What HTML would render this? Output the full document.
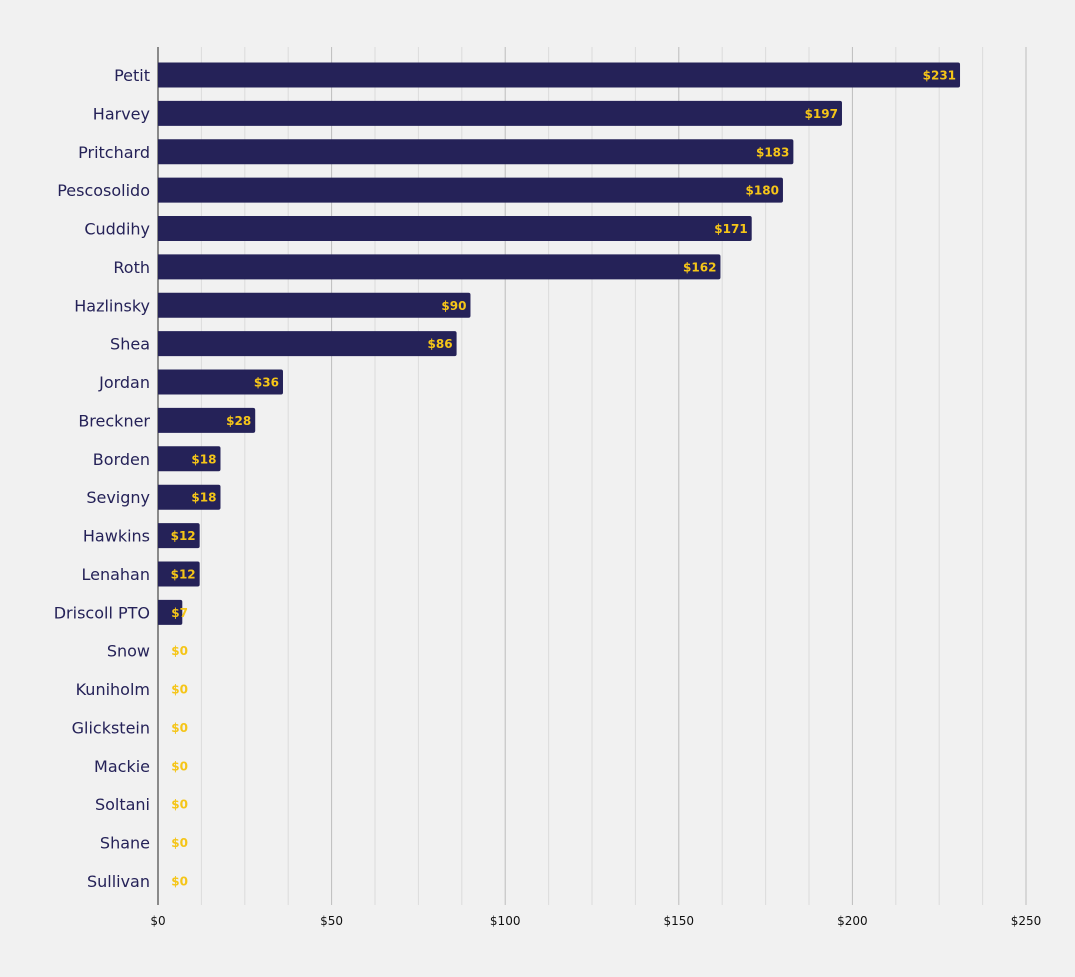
<!DOCTYPE html>
<html><head><meta charset="utf-8"><style>
html,body{margin:0;padding:0;background:#f1f1f1;}
svg{display:block;}
</style></head><body>
<svg id="chart" width="1075" height="977" xmlns="http://www.w3.org/2000/svg">
<rect width="1075" height="977" fill="#f1f1f1"/>
<g id="grid"></g>
<g id="bars"></g>
<g id="ylabels"></g>
<g id="xlabels"></g>
</svg>
<script>
const categories = ["Petit","Harvey","Pritchard","Pescosolido","Cuddihy","Roth","Hazlinsky","Shea","Jordan","Breckner","Borden","Sevigny","Hawkins","Lenahan","Driscoll PTO","Snow","Kuniholm","Glickstein","Mackie","Soltani","Shane","Sullivan"];
const values = [231,197,183,180,171,162,90,86,36,28,18,18,12,12,7,0,0,0,0,0,0,0];
const xTicks = [0,50,100,150,200,250];
const xMinor = [12.5,25,37.5,62.5,75,87.5,112.5,125,137.5,162.5,175,187.5,212.5,225,237.5];

const NS = "http://www.w3.org/2000/svg";
const x0 = 158, x1 = 1026, xMax = 250;
const plotTop = 47, plotBottom = 905, firstY = 75, step = (881-75)/21, barH = 25;
const xs = v => x0 + (x1 - x0) * v / xMax;
const ys = i => firstY + i * step;
function mk(tag, attrs, parent){const e=document.createElementNS(NS,tag);for(const k in attrs)e.setAttribute(k,attrs[k]);parent.appendChild(e);return e;}

const grid = document.getElementById('grid');
xMinor.forEach(t=>{
  const l = mk('line',{x1:xs(t),x2:xs(t),y1:plotTop,y2:plotBottom,stroke:'#dcdcdc','stroke-width':1},grid);
  
  
});
xTicks.forEach(t=>{
  const l = mk('line',{x1:xs(t),x2:xs(t),y1:plotTop,y2:plotBottom,stroke:t===0?'#222':'#bdbdbd','stroke-width':1},grid);
  
  
});

const xl = document.getElementById('xlabels');
xTicks.forEach(t=>{
  const tx = mk('text',{x:xs(t),y:925,'text-anchor':'middle','font-family':'DejaVu Sans, Liberation Sans, sans-serif','font-size':12,fill:'#111'},xl);
  tx.textContent = '$'+t;
  
  
});

const bars = document.getElementById('bars'), yl = document.getElementById('ylabels');
categories.forEach((c,i)=>{
  const v = values[i], cy = ys(i);
  if (v > 0) {
    const w = xs(v) - x0, r = 2;
    const p = mk('path',{d:`M${x0},${cy-barH/2} H${x0+w-r} Q${x0+w},${cy-barH/2} ${x0+w},${cy-barH/2+r} V${cy+barH/2-r} Q${x0+w},${cy+barH/2} ${x0+w-r},${cy+barH/2} H${x0} Z`,fill:'#252258'},bars);
    
    
  }
  const vt = mk('text',{x:Math.max(xs(v)-4, x0+30),y:cy+4.5,'text-anchor':'end','font-family':'DejaVu Sans, Liberation Sans, sans-serif','font-size':12,'font-weight':'bold',fill:'#f5c518'},bars);
  vt.textContent = '$'+v;
  
  
  const lt = mk('text',{x:150,y:cy+6,'text-anchor':'end','font-family':'DejaVu Sans, Liberation Sans, sans-serif','font-size':16,fill:'#252258'},yl);
  lt.textContent = c;
  
  
});
</script>
</body></html>
